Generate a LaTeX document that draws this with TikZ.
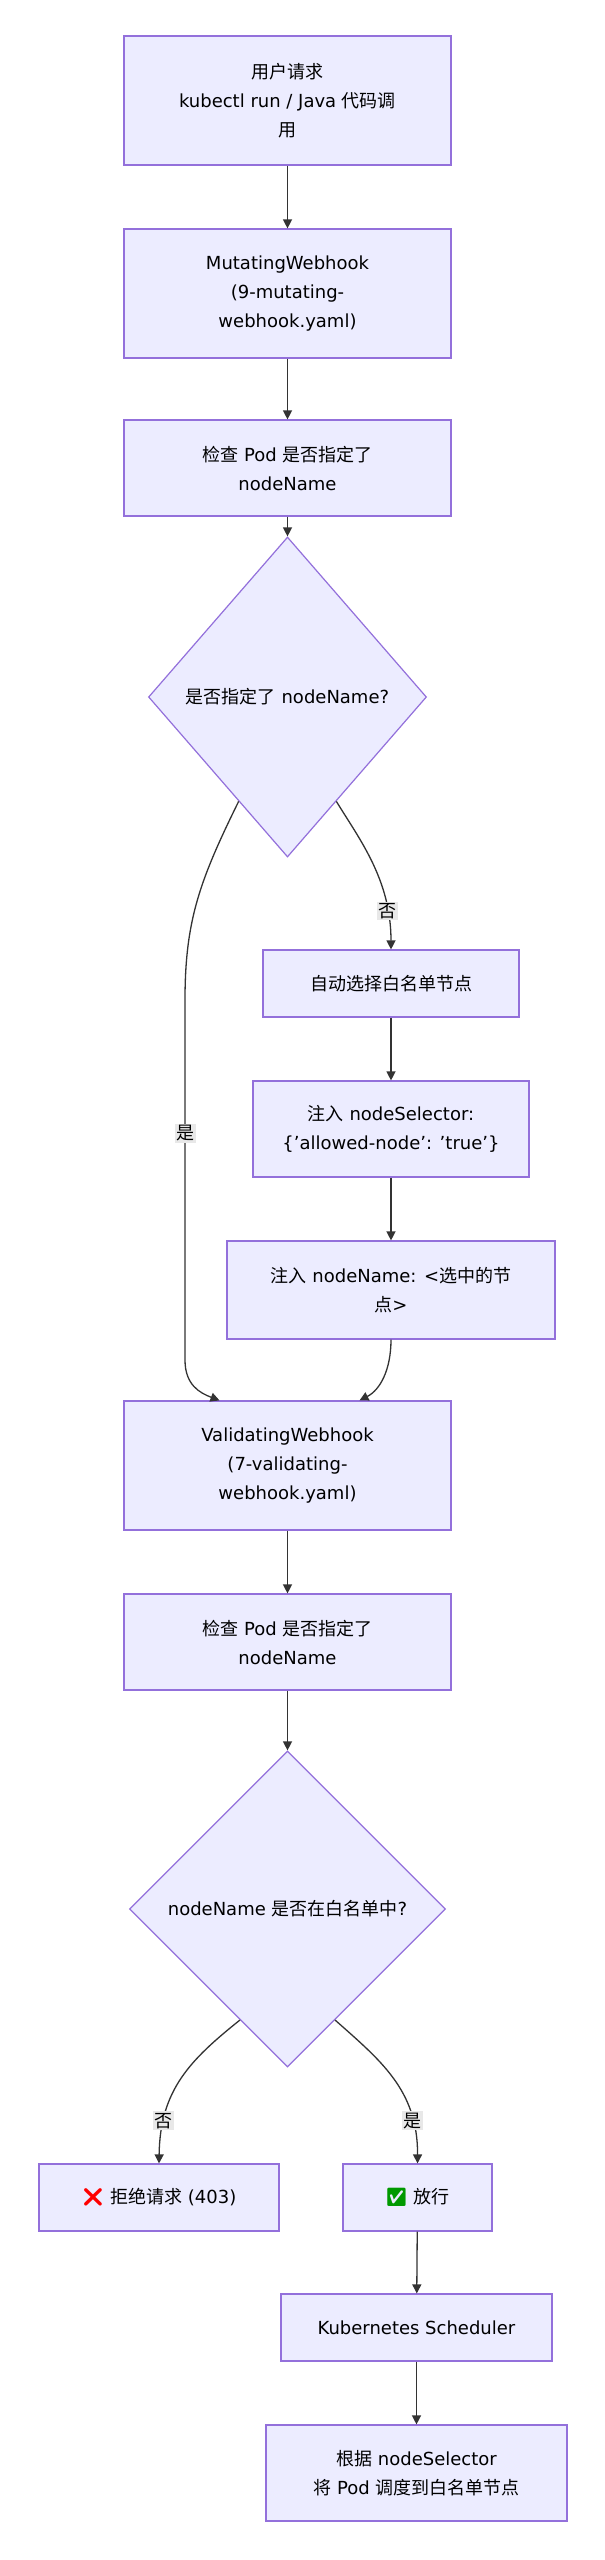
\documentclass[tikz,border=0pt]{standalone}
\usepackage{fontspec}
\setmainfont{DejaVu Sans}
\newfontfamily\cjk{Noto Sans CJK SC}
\newfontfamily\emo{Noto Emoji}
\usetikzlibrary{shapes.geometric,arrows.meta,calc}
\definecolor{nfill}{HTML}{ECECFF}
\definecolor{nline}{HTML}{9370DB}
\definecolor{eline}{HTML}{333333}
\definecolor{lbg}{HTML}{E8E8E8}
\newcommand{\C}[1]{{\cjk #1}}
\begin{document}
\begin{tikzpicture}[x=1pt,y=1pt,
  box/.style={draw=nline,fill=nfill,line width=1.2pt,align=center,inner sep=0pt,font=\fontsize{18}{29}\selectfont},
  dia/.style={draw=nline,fill=nfill,line width=1.2pt,diamond,inner sep=0pt,align=center,font=\fontsize{18}{29}\selectfont},
  arr/.style={draw=eline,line width=1.3pt,-{Triangle[length=9pt,width=9pt]}},
  lab/.style={fill=lbg,inner sep=1.5pt,font=\fontsize{18}{22}\selectfont\cjk}]
\useasboundingbox[fill=white] (0,0) rectangle (605,-2560);
\node[box,minimum width=327,minimum height=129] (a) at (287.5,-100.5) {\C{用户请求}\\kubectl run / Java \C{代码调}\\\C{用}};
\node[box,minimum width=327,minimum height=129] (b) at (287.5,-293.5) {MutatingWebhook\\(9-mutating-\\webhook.yaml)};
\node[box,minimum width=327,minimum height=96] (c) at (287.5,-468) {\C{检查} Pod \C{是否指定了}\\nodeName};
\node[dia,minimum width=278,minimum height=320,shape aspect=0.87] (d1) at (287.5,-697) {\C{是否指定了} nodeName?};
\node[box,minimum width=256,minimum height=67] (e) at (391,-983.5) {\C{自动选择白名单节点}};
\node[box,minimum width=276,minimum height=96] (f) at (391,-1129) {\C{注入} nodeSelector:\\\{'allowed-node': 'true'\}};
\node[box,minimum width=328,minimum height=98] (g) at (391,-1290) {\C{注入} nodeName: <\C{选中的节}\\\C{点}>};
\node[box,minimum width=327,minimum height=129] (h) at (287.5,-1465.5) {ValidatingWebhook\\(7-validating-\\webhook.yaml)};
\node[box,minimum width=327,minimum height=96] (i) at (287.5,-1642) {\C{检查} Pod \C{是否指定了}\\nodeName};
\node[dia,minimum width=316,minimum height=316,shape aspect=1.6] (d2) at (287.5,-1909) {nodeName \C{是否在白名单中}?};
\node[box,minimum width=240,minimum height=67] (r) at (159,-2197.5) {{\emo\textcolor{red}{❌}} \C{拒绝请求} (403)};
\node[box,minimum width=149,minimum height=67] (p) at (417.5,-2197.5) {{\emo\textcolor{green!60!black}{✅}} \C{放行}};
\node[box,minimum width=271,minimum height=67] (s) at (416.5,-2327.5) {Kubernetes Scheduler};
\node[box,minimum width=301,minimum height=96] (t) at (416.5,-2473) {\C{根据} nodeSelector\\\C{将} Pod \C{调度到白名单节点}};
\draw[arr] (a) -- (b);
\draw[arr] (b) -- (c);
\draw[arr] (c) -- (d1);
\coordinate (d1r) at ($(d1.east)!0.65!(d1.south)$);
\coordinate (d1l) at ($(d1.west)!0.65!(d1.south)$);
\draw[arr] (d1r) .. controls (360,-840) and (391,-880) .. node[lab,pos=0.8]{否} (e.north);
\draw[arr] (e) -- (f);
\draw[arr] (f) -- (g);
\coordinate (hl) at ($(h.north)+(-68,0)$);
\coordinate (hr) at ($(h.north)+(72,0)$);
\draw[arr] (d1l) .. controls (200,-880) and (185,-920) .. (185,-1000) -- node[lab,pos=0.37]{是} (185,-1360) .. controls (185,-1385) and (200,-1393) .. (hl);
\draw[arr] (g.south) .. controls (391,-1370) and (380,-1390) .. (hr);
\draw[arr] (h) -- (i);
\draw[arr] (i) -- (d2);
\coordinate (d2l) at ($(d2.west)!0.7!(d2.south)$);
\coordinate (d2r) at ($(d2.east)!0.7!(d2.south)$);
\draw[arr] (d2l) .. controls (190,-2060) and (160,-2090) .. node[lab,pos=0.78]{否} (r.north);
\draw[arr] (d2r) .. controls (380,-2060) and (418,-2090) .. node[lab,pos=0.78]{是} (p.north);
\draw[arr] (p) -- (s);
\draw[arr] (s) -- (t);
\end{tikzpicture}
\end{document}
